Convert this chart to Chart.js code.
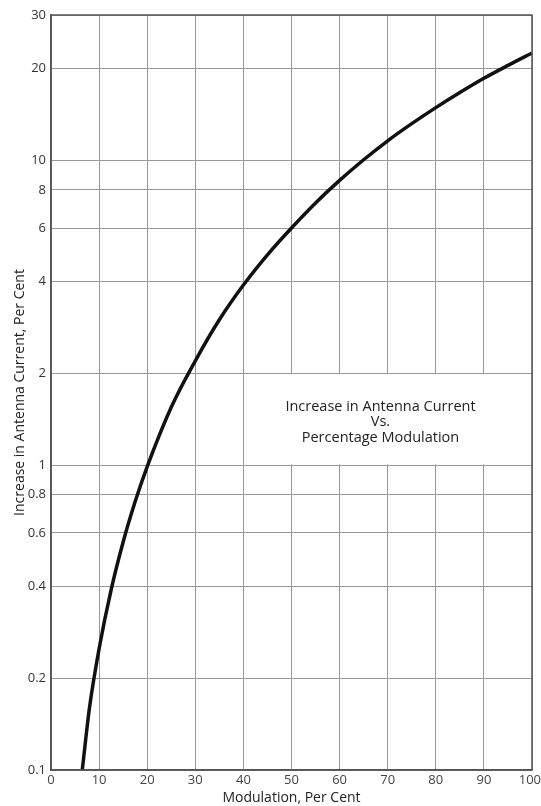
<!DOCTYPE html>
<html>
<head>
<meta charset="utf-8">
<script src="https://cdn.jsdelivr.net/npm/chart.js@4/dist/chart.umd.min.js"></script>
<style>
  html, body { margin: 0; padding: 0; background: #fff; }
  #wrap { width: 541px; height: 806px; }
</style>
</head>
<body>
<div id="wrap"><canvas id="chart"></canvas></div>
<script>
// values
const modulation = [6.5, 8, 10, 12.5, 15, 17.5, 20, 25, 30, 35, 40, 45, 50, 55, 60, 65, 70, 75, 80, 85, 90, 95, 100];
const currentIncrease = [0.1, 0.16, 0.25, 0.39, 0.56, 0.76, 0.99, 1.55, 2.2, 3.0, 3.9, 4.9, 6.0, 7.25, 8.6, 10.05, 11.6, 13.2, 14.9, 16.7, 18.6, 20.5, 22.5];
const yTicks = [0.1, 0.2, 0.4, 0.6, 0.8, 1, 2, 4, 6, 8, 10, 20, 30];
const xTicks = [0, 10, 20, 30, 40, 50, 60, 70, 80, 90, 100];
const boxTitle = ['Increase in Antenna Current', 'Vs.', 'Percentage Modulation'];

const FONT = "'Open Sans', 'DejaVu Sans', sans-serif";

// blank panel behind the caption (between 40-100 %, 1-2 %), frame, caption and x tick labels
const captionPanel = {
  id: 'captionPanel',
  beforeDatasetsDraw(chart) {
    const { ctx, scales: { x, y } } = chart;
    const l = x.getPixelForValue(40) + 1, r = x.getPixelForValue(100) - 1;
    const t = y.getPixelForValue(2) + 1, b = y.getPixelForValue(1) - 1;
    ctx.save();
    ctx.fillStyle = '#fff';
    ctx.fillRect(l, t, r - l, b - t);
    ctx.restore();
  },
  afterDraw(chart) {
    const { ctx, chartArea, scales: { x, y } } = chart;
    ctx.save();
    // frame
    ctx.strokeStyle = '#555';
    ctx.lineWidth = 1.5;
    ctx.strokeRect(chartArea.left, chartArea.top, chartArea.right - chartArea.left, chartArea.bottom - chartArea.top);
    // x tick labels, kept inside the canvas
    ctx.fillStyle = '#444';
    ctx.font = '13px ' + FONT;
    ctx.textAlign = 'center';
    ctx.textBaseline = 'top';
    xTicks.forEach((v) => {
      const label = String(v);
      const w = ctx.measureText(label).width;
      const px = Math.min(x.getPixelForValue(v), chart.width - w / 2);
      ctx.fillText(label, px, chartArea.bottom + 4);
    });
    // caption
    const cx = x.getPixelForValue(68.5);
    const cy = (y.getPixelForValue(1) + y.getPixelForValue(2)) / 2 + 3;
    ctx.fillStyle = '#222';
    ctx.font = '14.5px ' + FONT;
    ctx.textBaseline = 'middle';
    boxTitle.forEach((line, i) => ctx.fillText(line, cx, cy + (i - 1) * 15.5));
    ctx.restore();
  }
};

new Chart(document.getElementById('chart'), {
  type: 'line',
  data: {
    datasets: [{
      data: modulation.map((m, i) => ({ x: m, y: currentIncrease[i] })),
      borderColor: '#111',
      borderWidth: 3.5,
      pointRadius: 0,
      cubicInterpolationMode: 'monotone',
      fill: false
    }]
  },
  options: {
    responsive: true,
    maintainAspectRatio: false,
    animation: false,
    layout: { padding: { top: 15, right: 9, left: 0, bottom: 0 } },
    plugins: { legend: { display: false }, tooltip: { enabled: false } },
    scales: {
      x: {
        type: 'linear',
        min: 0,
        max: 100,
        afterBuildTicks: (scale) => { scale.ticks = xTicks.map((v) => ({ value: v })); },
        afterFit: (scale) => { scale.height = 36; scale.paddingLeft = 0; scale.paddingRight = 0; },
        grid: { color: '#999', lineWidth: 1, drawTicks: false },
        border: { color: '#555', width: 1.5 },
        ticks: { display: false },
        title: {
          display: true,
          text: 'Modulation, Per Cent',
          color: '#222',
          font: { family: FONT, size: 14 },
          padding: { top: 0, bottom: 0 }
        }
      },
      y: {
        type: 'logarithmic',
        min: 0.1,
        max: 30,
        afterBuildTicks: (scale) => { scale.ticks = yTicks.map((v) => ({ value: v })); },
        afterFit: (scale) => { scale.width = 51; scale.paddingTop = 0; scale.paddingBottom = 0; },
        grid: { color: '#999', lineWidth: 1, drawTicks: false },
        border: { color: '#555', width: 1.5 },
        ticks: {
          padding: 5,
          color: '#333',
          font: { family: FONT, size: 13 },
          callback: (v) => String(v)
        },
        title: {
          display: true,
          text: 'Increase in Antenna Current, Per Cent',
          color: '#222',
          font: { family: FONT, size: 14 },
          padding: { top: 12, bottom: 0 }
        }
      }
    }
  },
  plugins: [captionPanel]
});
</script>
</body>
</html>
